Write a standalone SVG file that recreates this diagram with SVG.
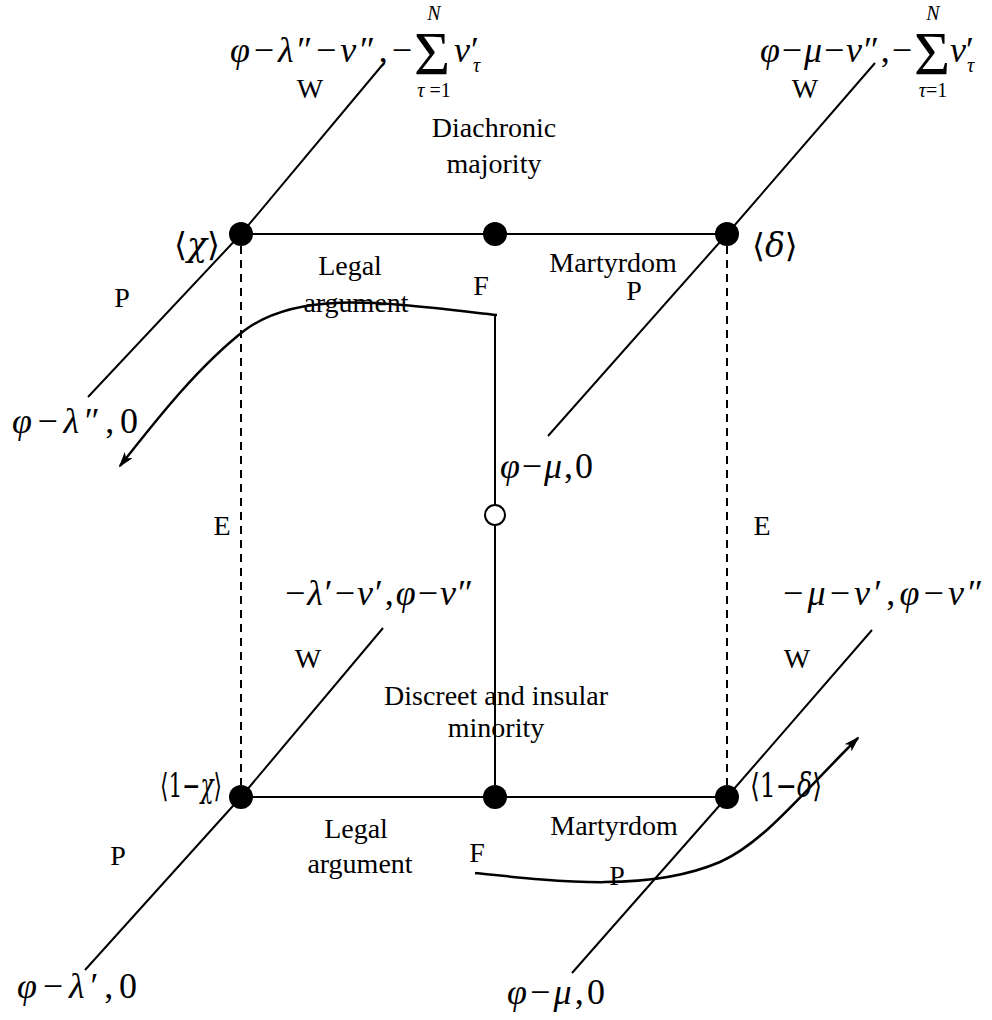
<svg xmlns="http://www.w3.org/2000/svg" width="992" height="1020" viewBox="0 0 992 1020">
<style>
.m{font-family:"Liberation Serif","DejaVu Serif",serif;font-size:36px;fill:#000}
.i{font-style:italic}
.s{font-size:20px}
.sg{font-size:62px;font-style:normal}
.ang{font-family:"DejaVu Serif","Liberation Serif",serif;font-size:33px}
.lbl{font-family:"Liberation Serif",serif;font-size:28px;text-anchor:middle;fill:#000}
.ln{stroke:#000;stroke-width:2;fill:none}
.ds{stroke:#000;stroke-width:2;fill:none;stroke-dasharray:8 6}
.cv{stroke:#000;stroke-width:2.5;fill:none}
.dot{fill:#000}
</style>
<defs>
<marker id="ah" markerWidth="16" markerHeight="10" refX="14" refY="5" orient="auto" markerUnits="userSpaceOnUse">
<path d="M0,0 L16,5 L0,10 L4,5 Z" fill="#000"/>
</marker>
</defs>
<rect width="992" height="1020" fill="#fff"/>
<g id="connectors">
<line class="ln" x1="241" y1="234" x2="727" y2="234"/>
<line class="ln" x1="241" y1="797" x2="727" y2="797"/>
<line class="ln" x1="495" y1="315" x2="495" y2="505"/>
<line class="ln" x1="495" y1="525" x2="495" y2="797"/>
<line class="ds" x1="241" y1="246" x2="241" y2="785"/>
<line class="ds" x1="727" y1="246" x2="727" y2="785"/>
<polyline class="ln" points="88,397 241,234 384,63"/>
<polyline class="ln" points="548,436 727,234 875,63"/>
<polyline class="ln" points="85,970 241,797 383,628"/>
<polyline class="ln" points="572,973 727,797 872,630"/>
<path class="cv" d="M497,315 C380,302 300,290 245,330 C200,365 160,415 120,466" marker-end="url(#ah)"/>
<path class="cv" d="M475,873 C560,882 650,892 720,862 C765,842 805,790 858,738" marker-end="url(#ah)"/>
</g>
<g id="node-chi"><circle class="dot" cx="241" cy="234" r="12"/><text class="ang" x="174" y="256" textLength="46" lengthAdjust="spacingAndGlyphs">⟨<tspan class="i">χ</tspan>⟩</text></g>
<g id="node-top-mid"><circle class="dot" cx="495" cy="234" r="12"/></g>
<g id="node-delta"><circle class="dot" cx="727" cy="234" r="12"/><text class="ang" x="752" y="257">⟨<tspan class="i">δ</tspan>⟩</text></g>
<g id="node-1chi"><circle class="dot" cx="241" cy="797" r="12"/><text class="ang" x="160" y="797" textLength="62" lengthAdjust="spacingAndGlyphs">⟨1−<tspan class="i">χ</tspan>⟩</text></g>
<g id="node-bot-mid"><circle class="dot" cx="495" cy="797" r="12"/></g>
<g id="node-1delta"><circle class="dot" cx="727" cy="797" r="12"/><text class="ang" x="750" y="797" textLength="72" lengthAdjust="spacingAndGlyphs">⟨1−<tspan class="i">δ</tspan>⟩</text></g>
<g id="node-open"><circle cx="495" cy="515" r="10" fill="#fff" stroke="#000" stroke-width="2"/></g>
<g id="payoffs">
<text class="m" y="62"><tspan x="230" textLength="182" lengthAdjust="spacing"><tspan class="i">φ</tspan>−<tspan class="i">λ</tspan>″−<tspan class="i">ν</tspan>″,−</tspan><tspan class="sg" x="414" y="74">Σ</tspan><tspan class="i" x="454" y="62">ν</tspan><tspan x="471">′</tspan><tspan class="i s" x="473" dy="10">τ</tspan></text>
<text class="m i s" x="434" y="20" text-anchor="middle">N</text>
<text class="m s" x="434" y="97" text-anchor="middle"><tspan class="i">τ</tspan> =1</text>

<text class="m" y="62"><tspan x="760" textLength="152" lengthAdjust="spacing"><tspan class="i">φ</tspan>−<tspan class="i">μ</tspan>−<tspan class="i">ν</tspan>″,−</tspan><tspan class="sg" x="914" y="74">Σ</tspan><tspan class="i" x="950" y="62">ν</tspan><tspan x="966">′</tspan><tspan class="i s" x="967" dy="10">τ</tspan></text>
<text class="m i s" x="933" y="20" text-anchor="middle">N</text>
<text class="m s" x="933" y="97" text-anchor="middle"><tspan class="i">τ</tspan>=1</text>

<text class="m" x="12" y="433" textLength="126" lengthAdjust="spacing"><tspan class="i">φ</tspan>−<tspan class="i">λ</tspan>″,0</text>
<text class="m" x="500" y="478" textLength="93" lengthAdjust="spacing"><tspan class="i">φ</tspan>−<tspan class="i">μ</tspan>,0</text>

<text class="m" x="285" y="605" textLength="188" lengthAdjust="spacing">−<tspan class="i">λ</tspan>′−<tspan class="i">ν</tspan>′,<tspan class="i">φ</tspan>−<tspan class="i">ν</tspan>″</text>
<text class="m" x="783" y="605" textLength="200" lengthAdjust="spacing">−<tspan class="i">μ</tspan>−<tspan class="i">ν</tspan>′,<tspan class="i">φ</tspan>−<tspan class="i">ν</tspan>″</text>

<text class="m" x="17" y="998" textLength="120" lengthAdjust="spacing"><tspan class="i">φ</tspan>−<tspan class="i">λ</tspan>′,0</text>
<text class="m" x="507" y="1004" textLength="98" lengthAdjust="spacing"><tspan class="i">φ</tspan>−<tspan class="i">μ</tspan>,0</text>
</g>
<g id="labels">
<text class="lbl" x="310" y="98">W</text>
<text class="lbl" x="805" y="98">W</text>
<text class="lbl" x="494" y="137">Diachronic</text>
<text class="lbl" x="494" y="173">majority</text>
<text class="lbl" x="350" y="275">Legal</text>
<text class="lbl" x="356" y="312">argument</text>
<text class="lbl" x="481" y="295">F</text>
<text class="lbl" x="613" y="272">Martyrdom</text>
<text class="lbl" x="634" y="300">P</text>
<text class="lbl" x="122" y="307">P</text>
<text class="lbl" x="222" y="535">E</text>
<text class="lbl" x="762" y="535">E</text>
<text class="lbl" x="308" y="668">W</text>
<text class="lbl" x="797" y="668">W</text>
<text class="lbl" x="496" y="705">Discreet and insular</text>
<text class="lbl" x="496" y="737">minority</text>
<text class="lbl" x="356" y="838">Legal</text>
<text class="lbl" x="360" y="873">argument</text>
<text class="lbl" x="477" y="862">F</text>
<text class="lbl" x="614" y="835">Martyrdom</text>
<text class="lbl" x="617" y="885">P</text>
<text class="lbl" x="118" y="865">P</text>
</g>
</svg>
